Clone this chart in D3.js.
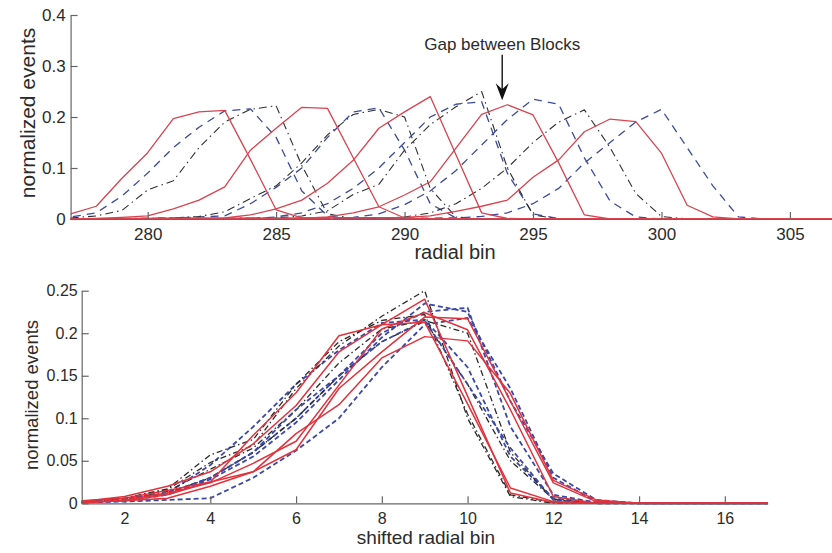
<!DOCTYPE html>
<html>
<head>
<meta charset="utf-8">
<script src="https://cdn.jsdelivr.net/npm/d3@7/dist/d3.min.js"></script>
<style>
  body { margin: 0; background: #fff; }
  svg { display: block; font-family: "Liberation Sans", Arial, Helvetica, sans-serif; }
</style>
</head>
<body>
<svg id="chart" width="832" height="553"></svg>
<script>
// ---- data -------------------------------------------------------------
// Each run is a radial profile sampled on 17 shifted bins; the offset maps
// a shifted bin back to the absolute radial bin (radial = offset + shifted).
const shiftedBins = [1, 2, 3, 4, 5, 6, 7, 8, 9, 10, 11, 12, 13, 14, 15, 16, 17];
const runOffsets  = [274, 275, 276, 277, 279, 280, 282, 283, 284, 285, 286, 288, 289, 291];

const run01 = [0.001, 0.003, 0.010, 0.025, 0.080, 0.130, 0.197, 0.210, 0.213, 0.117, 0.018, 0.002, 0, 0, 0, 0, 0];
const run02 = [0.001, 0.004, 0.012, 0.045, 0.090, 0.140, 0.180, 0.212, 0.216, 0.160, 0.055, 0.006, 0, 0, 0, 0, 0];
const run03 = [0.002, 0.006, 0.017, 0.057, 0.075, 0.140, 0.190, 0.215, 0.222, 0.105, 0.010, 0.001, 0, 0, 0, 0, 0];
const run04 = [0.001, 0.003, 0.006, 0.020, 0.037, 0.063, 0.135, 0.178, 0.219, 0.217, 0.120, 0.024, 0.002, 0, 0, 0, 0];
const run05 = [0.001, 0.002, 0.004, 0.006, 0.030, 0.062, 0.100, 0.160, 0.210, 0.218, 0.135, 0.030, 0.002, 0, 0, 0, 0];
const run06 = [0.002, 0.005, 0.014, 0.040, 0.065, 0.110, 0.165, 0.205, 0.215, 0.200, 0.060, 0.004, 0, 0, 0, 0, 0];
const run07 = [0.002, 0.008, 0.020, 0.037, 0.070, 0.115, 0.178, 0.210, 0.240, 0.126, 0.012, 0.001, 0, 0, 0, 0, 0];
const run08 = [0.001, 0.004, 0.012, 0.030, 0.060, 0.100, 0.150, 0.200, 0.225, 0.230, 0.090, 0.010, 0.001, 0, 0, 0, 0];
const run09 = [0.002, 0.006, 0.016, 0.048, 0.068, 0.135, 0.185, 0.220, 0.250, 0.100, 0.008, 0, 0, 0, 0, 0, 0];
const run10 = [0.001, 0.004, 0.012, 0.024, 0.047, 0.073, 0.139, 0.205, 0.224, 0.204, 0.110, 0.008, 0, 0, 0, 0, 0];
const run11 = [0.001, 0.003, 0.010, 0.028, 0.055, 0.095, 0.145, 0.195, 0.235, 0.225, 0.120, 0.035, 0.004, 0, 0, 0, 0];
const run12 = [0.001, 0.004, 0.012, 0.030, 0.060, 0.100, 0.150, 0.190, 0.214, 0.140, 0.050, 0.005, 0, 0, 0, 0, 0];
const run13 = [0.003, 0.006, 0.015, 0.025, 0.037, 0.082, 0.116, 0.171, 0.196, 0.191, 0.129, 0.027, 0.004, 0, 0, 0, 0];
const run14 = [0.002, 0.005, 0.012, 0.030, 0.060, 0.110, 0.150, 0.190, 0.215, 0.140, 0.065, 0.004, 0, 0, 0, 0, 0];
const runs = [run01, run02, run03, run04, run05, run06, run07, run08, run09, run10, run11, run12, run13, run14];

const topXTicks = [280, 285, 290, 295, 300, 305];
const topYTicks = [0, 0.1, 0.2, 0.3, 0.4];
const botXTicks = [2, 4, 6, 8, 10, 12, 14, 16];
const botYTicks = [0, 0.05, 0.1, 0.15, 0.2, 0.25];

const topXDomain = [277, 307];
const gapLabel = "Gap between Blocks";
const gapBin = 293.8;       // radial bin the arrow points at
const gapTip = 0.233;       // arrow tip height
const gapTail = 0.322;      // arrow tail height

// ---- styles -----------------------------------------------------------
// line styles cycle red solid / blue dashed / black dash-dot
const topStyles = [
  { stroke: "#d9434f", width: 1.3, dash: null },
  { stroke: "#3b4a9c", width: 1.3, dash: "8,6" },
  { stroke: "#2f2f2f", width: 1.1, dash: "8,4,1.5,4" }
];
const botStyles = [
  { stroke: "#e2323c", width: 1.5, dash: null },
  { stroke: "#3c48a8", width: 1.8, dash: "5,3" },
  { stroke: "#2a2a2a", width: 1.3, dash: "6,3,1.5,3" }
];
const axisColor = "#666";
const textColor = "#2b2b2b";

const svg = d3.select("#chart");

// draw order: dashed / dash-dot runs first, solid red runs on top
const order = d3.range(runs.length).sort((a, b) => ((a % 3 === 0) - (b % 3 === 0)) || (a - b));

// ---- top panel: absolute radial bins --------------------------------
const tx = d3.scaleLinear().domain(topXDomain).range([70.6, 841.3]);
const ty = d3.scaleLinear().domain([0, 0.4]).range([219, 15]);

svg.append("clipPath").attr("id", "clipTop")
  .append("rect").attr("x", tx(topXDomain[0])).attr("y", 0)
  .attr("width", 832 - tx(topXDomain[0])).attr("height", 222);

const topLine = d3.line().x(d => tx(d[0])).y(d => ty(d[1]));
const gTop = svg.append("g").attr("clip-path", "url(#clipTop)");

order.forEach(i => {
  const off = runOffsets[i];
  const pts = shiftedBins.map((b, j) => [off + b, runs[i][j]]);
  // the profile is zero outside its 17-bin window
  if (pts[0][0] > topXDomain[0]) pts.unshift([topXDomain[0], 0]);
  if (pts[pts.length - 1][0] < topXDomain[1]) pts.push([topXDomain[1], 0]);
  const s = topStyles[i % 3];
  gTop.append("path").attr("d", topLine(pts))
    .attr("fill", "none").attr("stroke", s.stroke)
    .attr("stroke-width", s.width).attr("stroke-dasharray", s.dash)
    .attr("stroke-linejoin", "round");
});

const topXAxis = svg.append("g").attr("transform", `translate(0,${ty(0)})`)
  .call(d3.axisBottom(tx).tickValues(topXTicks).tickFormat(d => String(d))
    .tickSizeInner(-7).tickSizeOuter(0).tickPadding(9));
const topYAxis = svg.append("g").attr("transform", `translate(${tx(topXDomain[0])},0)`)
  .call(d3.axisLeft(ty).tickValues(topYTicks).tickFormat(d => String(d))
    .tickSizeInner(-7).tickSizeOuter(0).tickPadding(5));
[topXAxis, topYAxis].forEach(g => {
  g.select(".domain").attr("stroke", axisColor).attr("stroke-width", 1.2);
  g.selectAll(".tick line").attr("stroke", axisColor).attr("stroke-width", 1.2);
  g.selectAll(".tick text").attr("fill", textColor).attr("font-size", 17)
    .attr("font-family", null);
});

svg.append("text").attr("x", 455).attr("y", 259).attr("text-anchor", "middle")
  .attr("font-size", 20).attr("fill", textColor).text("radial bin");
svg.append("text").attr("transform", "translate(35,113) rotate(-90)")
  .attr("text-anchor", "middle").attr("font-size", 21).attr("fill", textColor)
  .text("normalized events");

// annotation arrow
const ax = tx(gapBin), yTip = ty(gapTip), yTail = ty(gapTail);
svg.append("line").attr("x1", ax).attr("x2", ax).attr("y1", yTail).attr("y2", yTip - 6)
  .attr("stroke", "#111").attr("stroke-width", 1.4);
svg.append("path")
  .attr("d", `M${ax},${yTip} L${ax - 6.5},${yTip - 17} L${ax},${yTip - 11} L${ax + 6.5},${yTip - 17} Z`)
  .attr("fill", "#111");
svg.append("text").attr("x", ax).attr("y", yTail - 5).attr("text-anchor", "middle")
  .attr("font-size", 17).attr("fill", textColor).text(gapLabel);

// ---- bottom panel: shifted radial bins -------------------------------
const bx = d3.scaleLinear().domain([1, 17]).range([81.7, 767.7]);
const by = d3.scaleLinear().domain([0, 0.25]).range([503.3, 290.7]);
const botLine = d3.line().x(d => bx(d[0])).y(d => by(d[1]));

order.forEach(i => {
  const pts = shiftedBins.map((b, j) => [b, runs[i][j]]);
  const s = botStyles[i % 3];
  svg.append("path").attr("d", botLine(pts))
    .attr("fill", "none").attr("stroke", s.stroke)
    .attr("stroke-width", s.width).attr("stroke-dasharray", s.dash)
    .attr("stroke-linejoin", "round");
});

const botXAxis = svg.append("g").attr("transform", `translate(0,${by(0)})`)
  .call(d3.axisBottom(bx).tickValues(botXTicks).tickFormat(d => String(d))
    .tickSizeInner(-7).tickSizeOuter(0).tickPadding(9));
const botYAxis = svg.append("g").attr("transform", `translate(${bx(1)},0)`)
  .call(d3.axisLeft(by).tickValues(botYTicks).tickFormat(d => String(d))
    .tickSizeInner(-7).tickSizeOuter(0).tickPadding(4));
[botXAxis, botYAxis].forEach(g => {
  g.select(".domain").attr("stroke", axisColor).attr("stroke-width", 1.2);
  g.selectAll(".tick line").attr("stroke", axisColor).attr("stroke-width", 1.2);
  g.selectAll(".tick text").attr("fill", textColor).attr("font-size", 16)
    .attr("font-family", null);
});

svg.append("text").attr("x", 426).attr("y", 544).attr("text-anchor", "middle")
  .attr("font-size", 19).attr("fill", textColor).text("shifted radial bin");
svg.append("text").attr("transform", "translate(38,395) rotate(-90)")
  .attr("text-anchor", "middle").attr("font-size", 18.5).attr("fill", textColor)
  .text("normalized events");
</script>
</body>
</html>
